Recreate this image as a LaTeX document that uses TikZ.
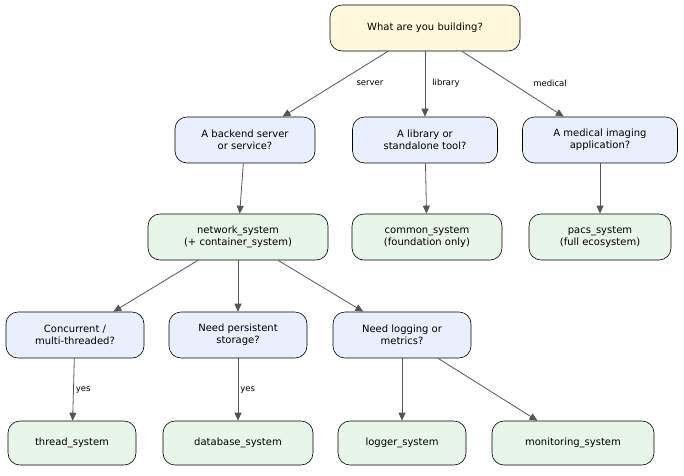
\documentclass[tikz,border=0pt]{standalone}
\usepackage{fontspec}
\setmainfont{DejaVu Sans}
\usetikzlibrary{positioning,arrows.meta}
\definecolor{rootfill}{HTML}{FFF8DC}
\definecolor{askfill}{HTML}{E8F0FE}
\definecolor{sysfill}{HTML}{E8F5E9}
\definecolor{edgegray}{HTML}{555555}
\begin{document}
\begin{tikzpicture}
    [x=1pt,y=-1pt,
     box/.style={rectangle,rounded corners=12pt,draw=black,line width=0.6pt,align=center,
       minimum height=46pt,inner sep=2pt,font=\fontsize{10}{12}\selectfont},
     root/.style={box,fill=rootfill},
     ask/.style={box,fill=askfill},
     sys/.style={box,fill=sysfill},
     lbl/.style={font=\fontsize{8.5}{10}\selectfont,fill=white,inner sep=1pt},
     link/.style={draw=edgegray,line width=0.8pt,-{Triangle[length=8pt,width=7pt]}}]

    \useasboundingbox (0,0) rectangle (684,475);

    \node[root,minimum width=190pt] (building) at (425,28) {What are you building?};

    \node[ask,minimum width=140pt] (backend) at (245,140) {A backend server\\or service?};
    \node[ask,minimum width=145pt] (library) at (425,140) {A library or\\standalone tool?};
    \node[ask,minimum width=155pt] (medical) at (600,140) {A medical imaging\\application?};

    \node[sys,minimum width=180pt] (network) at (238,237) {network\_system\\(+ container\_system)};
    \node[sys,minimum width=150pt] (common) at (427,237) {common\_system\\(foundation only)};
    \node[sys,minimum width=142pt] (pacs) at (600,237) {pacs\_system\\(full ecosystem)};

    \node[ask,minimum width=138pt] (concurrent) at (75,335) {Concurrent /\\multi-threaded?};
    \node[ask,minimum width=138pt] (storage) at (238,335) {Need persistent\\storage?};
    \node[ask,minimum width=138pt] (logging) at (402,335) {Need logging or\\metrics?};

    \node[sys,minimum width=128pt,minimum height=44pt] (thread) at (72,443) {thread\_system};
    \node[sys,minimum width=150pt,minimum height=44pt] (database) at (238,443) {database\_system};
    \node[sys,minimum width=128pt,minimum height=44pt] (logger) at (402,443) {logger\_system};
    \node[sys,minimum width=162pt,minimum height=44pt] (monitoring) at (573,443) {monitoring\_system};

    \draw[link] (building.south -| 388,0) -- (backend);
    \draw[link] (building.south) -- (library);
    \draw[link] (building.south -| 462,0) -- (medical);
    \node[lbl] (lserver) at (370,83) {server};
    \node[lbl] (llibrary) at (446,83) {library};
    \node[lbl] (lmedical) at (550,83) {medical};

    \draw[link] (backend) -- (network);
    \draw[link] (library) -- (common);
    \draw[link] (medical) -- (pacs);

    \draw[link] (network.south -| 198,0) -- (concurrent);
    \draw[link] (network) -- (storage);
    \draw[link] (network.south -| 278,0) -- (logging);

    \draw[link] (concurrent) -- (thread) node[lbl,midway,right=1pt] {yes};
    \draw[link] (storage) -- (database) node[lbl,midway,right=1pt] {yes};
    \draw[link] (logging) -- (logger);
    \draw[link] (logging.south -| 438,0) -- (monitoring);
\end{tikzpicture}
\end{document}
